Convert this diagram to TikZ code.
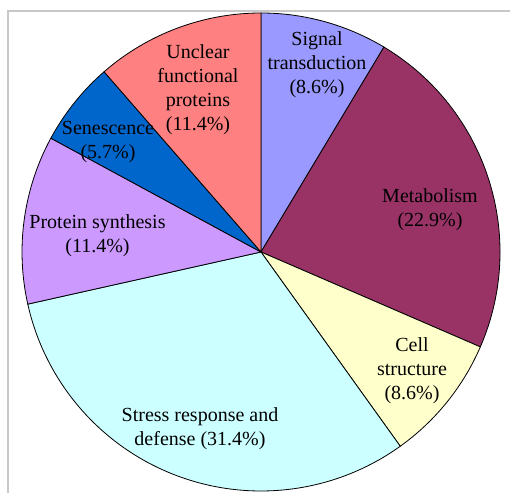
\documentclass[tikz,border=0pt]{standalone}
\usepackage{fontspec}
\setmainfont{Liberation Serif}

\definecolor{sigcol}{HTML}{9999FF}
\definecolor{metcol}{HTML}{993366}
\definecolor{cellcol}{HTML}{FFFFCC}
\definecolor{strcol}{HTML}{CCFFFF}
\definecolor{protcol}{HTML}{CC99FF}
\definecolor{sencol}{HTML}{0066CC}
\definecolor{unccol}{HTML}{FF8080}
\definecolor{framecol}{HTML}{C8C8C8}

\tikzset{
  lbl/.style={align=center, inner sep=0pt, font=\rmfamily\fontsize{15}{18}\selectfont},
  wedge/.style={draw=black, line width=0.6pt, line join=round}
}

\begin{document}
\begin{tikzpicture}[x=0.75pt, y=0.75pt]

\useasboundingbox (-261,-241) rectangle (249,252);

% ----------------------------------------------------------
% Frame
% ----------------------------------------------------------
\draw[framecol, line width=0.8pt] (-253,-241) -- (-253,241) -- (249,241);

% ----------------------------------------------------------
% Pie wedges (clockwise from 12 o'clock)
% ----------------------------------------------------------
\foreach \a/\b/\c in {90/59.04/sigcol, 59.04/-23.40/metcol,
    -23.40/-54.36/cellcol, -54.36/-167.40/strcol,
    -167.40/-208.44/protcol, 151.56/131.04/sencol, 131.04/90/unccol} {
    \filldraw[wedge, fill=\c] (0,0) -- (\a:239)
        arc[start angle=\a, end angle=\b, radius=239] -- cycle;
}

% ----------------------------------------------------------
% Wedge labels
% ----------------------------------------------------------
\node[lbl] (sig) at (56,187) {Signal\\transduction\\(8.6\%)};
\node[lbl] (met) at (169,42.5) {Metabolism\\(22.9\%)};
\node[lbl] (cell) at (151,-119) {Cell\\structure\\(8.6\%)};
\node[lbl] (stress) at (-61,-177) {Stress response and\\defense (31.4\%)};
\node[lbl] (prot) at (-163.5,16.5) {Protein synthesis\\(11.4\%)};
\node[lbl] (sen) at (-153,110) {Senescence\\(5.7\%)};
\node[lbl] (unc) at (-63,162) {Unclear\\functional\\proteins\\(11.4\%)};

\end{tikzpicture}
\end{document}
